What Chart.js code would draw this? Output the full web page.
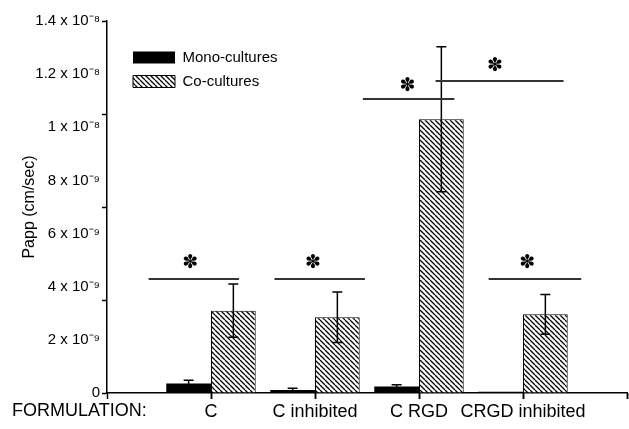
<!DOCTYPE html>
<html lang="en">
<head>
  <meta charset="UTF-8">
  <title>Papp by formulation</title>
  <script src="https://cdn.jsdelivr.net/npm/chart.js@4.4.0/dist/chart.umd.min.js"></script>
  <style>
    html, body { margin: 0; padding: 0; background: #fff; }
    #wrap { width: 629px; height: 429px; }
  </style>
</head>
<body>
  <div id="wrap"><canvas id="pappChart"></canvas></div>

  <script>
    // categories sit on the axis tick positions, first and last are empty
    const categories = ['', 'C', 'C inhibited', 'C RGD', 'CRGD inhibited', ''];
    // values in units of 1e-9 cm/sec
    const monoValues = [null, 0.36, 0.11, 0.24, 0.05, null];
    const monoErrors = [null, 0.12, 0.07, 0.07, 0, null];
    const coValues = [null, 3.10, 2.85, 10.30, 2.96, null];
    const coErrors = [null, 1.00, 0.95, 2.73, 0.75, null];
    const yLabelTicks = [0, 2, 4, 6, 8, 10, 12, 14];
    const yMarkTicks = [0, 3.5, 7, 10.5, 14];
    // significance lines: [x from, x to, y]  (x in category index units)
    const sigLines = [
      [0.40, 1.27, 4.29],
      [1.61, 2.48, 4.29],
      [2.46, 3.34, 11.07],
      [3.16, 4.39, 11.74],
      [3.67, 4.56, 4.29]
    ];
    // asterisks: [x, y]
    const sigStars = [
      [0.80, 4.93],
      [1.98, 4.93],
      [2.89, 11.59],
      [3.73, 12.34],
      [4.04, 4.93]
    ];

    const fontFamily = '"Liberation Sans", Arial, sans-serif';

    function makeHatch() {
      const s = 5;
      const c = document.createElement('canvas');
      c.width = s; c.height = s;
      const g = c.getContext('2d');
      g.fillStyle = '#fff';
      g.fillRect(0, 0, s, s);
      g.strokeStyle = '#000';
      g.lineWidth = 1.3;
      g.beginPath();
      for (const o of [-s, 0, s]) { g.moveTo(o, 0); g.lineTo(o + s, s); }
      g.stroke();
      return g.createPattern(c, 'repeat');
    }

    function sciLabel(v) {
      if (v === 0) return '0';
      if (v < 10) return v + ' x 10\u207B\u2079';
      return (v / 10) + ' x 10\u207B\u2078';
    }

    const allYTicks = [...new Set([...yLabelTicks, ...yMarkTicks])].sort((a, b) => a - b);

    const errorBars = {
      id: 'errorBars',
      afterDatasetsDraw(chart) {
        const ctx = chart.ctx, y = chart.scales.y;
        [[0, monoValues, monoErrors], [1, coValues, coErrors]].forEach(([di, vals, errs]) => {
          chart.getDatasetMeta(di).data.forEach((bar, i) => {
            if (vals[i] == null || !errs[i]) return;
            const top = y.getPixelForValue(vals[i] + errs[i]);
            const bot = y.getPixelForValue(vals[i] - errs[i]);
            ctx.save();
            ctx.strokeStyle = '#000';
            ctx.lineWidth = 1.5;
            ctx.beginPath();
            ctx.moveTo(bar.x, top); ctx.lineTo(bar.x, bot);
            ctx.moveTo(bar.x - 5, top); ctx.lineTo(bar.x + 5, top);
            ctx.moveTo(bar.x - 5, bot); ctx.lineTo(bar.x + 5, bot);
            ctx.stroke();
            ctx.restore();
          });
        });
      }
    };

    // significance lines and asterisks, placed through the x / y scales
    const significance = {
      id: 'significance',
      afterDatasetsDraw(chart) {
        const ctx = chart.ctx, x = chart.scales.x, y = chart.scales.y;
        ctx.save();
        ctx.strokeStyle = '#333';
        ctx.lineWidth = 2;
        sigLines.forEach(([x0, x1, yv]) => {
          const py = Math.round(y.getPixelForValue(yv));
          ctx.beginPath();
          ctx.moveTo(x.getPixelForValue(x0), py);
          ctx.lineTo(x.getPixelForValue(x1), py);
          ctx.stroke();
        });
        ctx.fillStyle = '#000';
        ctx.font = 'bold 19px "DejaVu Sans"';
        ctx.textAlign = 'center';
        ctx.textBaseline = 'middle';
        sigStars.forEach(([xv, yv]) => {
          ctx.fillText('\u273D', x.getPixelForValue(xv), y.getPixelForValue(yv) + 1);
        });
        ctx.restore();
      }
    };

    // small downward tick marks on the category axis
    const categoryTicks = {
      id: 'categoryTicks',
      afterDraw(chart) {
        const ctx = chart.ctx, x = chart.scales.x;
        ctx.save();
        ctx.strokeStyle = '#000';
        ctx.lineWidth = 1.5;
        ctx.beginPath();
        for (let i = 1; i < categories.length; i++) {
          const px = Math.round(x.getPixelForValue(i)) + 0.5;
          ctx.moveTo(px, x.top);
          ctx.lineTo(px, x.top + 6);
        }
        ctx.stroke();
        ctx.restore();
      }
    };

    const legendShift = {
      id: 'legendShift',
      afterLayout(chart) {
        chart.legend.left = chart.chartArea.left + 17;
        chart.legend.top = chart.chartArea.top + 20;
      }
    };

    const formulationLabel = {
      id: 'formulationLabel',
      afterDraw(chart) {
        const ctx = chart.ctx;
        ctx.save();
        ctx.font = '18px ' + fontFamily;
        ctx.fillStyle = '#000';
        ctx.textBaseline = 'middle';
        ctx.fillText('FORMULATION:', 12, chart.scales.x.top + 18);
        ctx.restore();
      }
    };

    new Chart(document.getElementById('pappChart'), {
      type: 'bar',
      data: {
        labels: categories,
        datasets: [
          {
            label: 'Mono-cultures',
            data: monoValues,
            backgroundColor: '#000',
            borderWidth: 0
          },
          {
            label: 'Co-cultures',
            data: coValues,
            backgroundColor: makeHatch(),
            borderColor: '#000',
            borderWidth: 1
          }
        ]
      },
      options: {
        responsive: true,
        maintainAspectRatio: false,
        animation: false,
        layout: { padding: { left: 0, right: 1, top: 21, bottom: 0 } },
        datasets: { bar: { barPercentage: 1.0, categoryPercentage: 0.86 } },
        scales: {
          x: {
            type: 'category',
            offset: false,
            afterFit: s => { s.height = 36; },
            grid: {
              offset: false,
              drawOnChartArea: false,
              tickLength: 6,
              tickColor: '#000',
              tickWidth: 1.5
            },
            border: { color: '#000', width: 1.5 },
            ticks: {
              autoSkip: false,
              maxRotation: 0,
              padding: 2,
              color: '#000',
              font: { family: fontFamily, size: 18 }
            }
          },
          y: {
            min: 0,
            max: 14,
            afterFit: s => { s.width = 107; },
            afterBuildTicks: s => { s.ticks = allYTicks.map(v => ({ value: v })); },
            grid: {
              drawOnChartArea: false,
              tickLength: 5,
              tickWidth: 1.5,
              tickColor: ctx => yMarkTicks.includes(ctx.tick.value) ? '#000' : 'rgba(0,0,0,0)'
            },
            border: { color: '#000', width: 1.5 },
            ticks: {
              autoSkip: false,
              padding: 2,
              color: '#000',
              font: { family: fontFamily, size: 15 },
              callback: v => yLabelTicks.includes(v) ? sciLabel(v) : ''
            },
            title: {
              display: true,
              text: 'Papp (cm/sec)',
              color: '#000',
              font: { family: fontFamily, size: 16 },
              padding: { top: 20, bottom: 0 }
            }
          }
        },
        plugins: {
          tooltip: { enabled: false },
          legend: {
            position: 'chartArea',
            align: 'start',
            labels: {
              boxWidth: 42,
              boxHeight: 12,
              padding: 9,
              color: '#000',
              font: { family: fontFamily, size: 15 }
            }
          }
        }
      },
      plugins: [errorBars, significance, categoryTicks, legendShift, formulationLabel]
    });
  </script>
</body>
</html>
